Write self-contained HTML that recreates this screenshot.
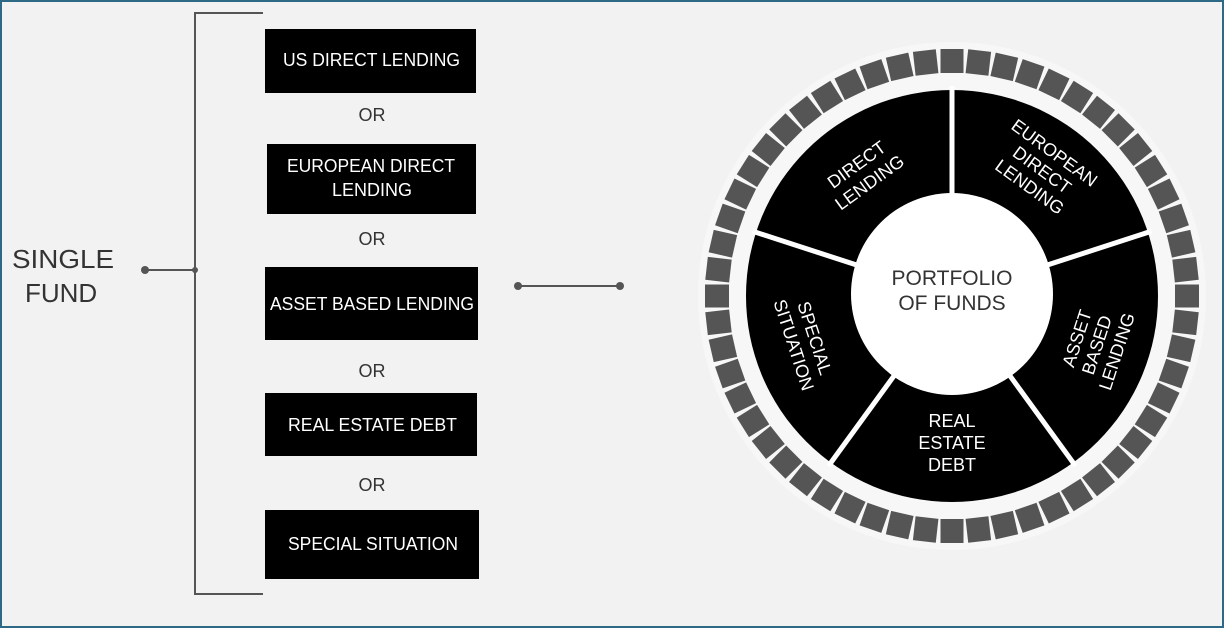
<!DOCTYPE html>
<html><head><meta charset="utf-8"><style>
html,body{margin:0;padding:0;background:#f2f2f2;}
svg{display:block}
text{font-family:"Liberation Sans",sans-serif;}
</style></head><body>
<svg id="s" width="1224" height="628" viewBox="0 0 1224 628" xmlns="http://www.w3.org/2000/svg">
<rect x="1" y="1" width="1222" height="626" fill="#f2f2f2" stroke="#2e6a86" stroke-width="2"/>
<!-- left -->
<text x="12" y="268" font-size="26" fill="#333" textLength="102" lengthAdjust="spacingAndGlyphs">SINGLE</text>
<text x="25" y="302" font-size="26" fill="#333">FUND</text>
<g stroke="#555" stroke-width="2" fill="none">
<polyline points="263,13 195,13 195,594 263,594"/>
<line x1="145" y1="270" x2="195" y2="270"/>
<line x1="518" y1="286" x2="620" y2="286"/>
</g>
<g fill="#555"><circle cx="145" cy="270" r="4"/><circle cx="195" cy="270" r="3"/><circle cx="518" cy="286" r="4"/><circle cx="620" cy="286" r="4"/></g>
<g fill="#000">
<rect x="265" y="29" width="211" height="64"/>
<rect x="267" y="144" width="209" height="70"/>
<rect x="265" y="267" width="213" height="73"/>
<rect x="265" y="393" width="212" height="63"/>
<rect x="265" y="510" width="214" height="69"/>
</g>
<g fill="#fff" font-size="18">
<text x="283" y="66" textLength="177" lengthAdjust="spacingAndGlyphs">US DIRECT LENDING</text>
<text x="287" y="172" textLength="168" lengthAdjust="spacingAndGlyphs">EUROPEAN DIRECT</text>
<text x="332" y="196" textLength="80" lengthAdjust="spacingAndGlyphs">LENDING</text>
<text x="270" y="310" textLength="204" lengthAdjust="spacingAndGlyphs">ASSET BASED LENDING</text>
<text x="288" y="431" textLength="169" lengthAdjust="spacingAndGlyphs">REAL ESTATE DEBT</text>
<text x="288" y="550" textLength="170" lengthAdjust="spacingAndGlyphs">SPECIAL SITUATION</text>
</g>
<g fill="#333" font-size="18" text-anchor="middle">
<text x="372" y="121">OR</text><text x="372" y="245">OR</text><text x="372" y="377">OR</text><text x="372" y="491">OR</text>
</g>
<!-- wheel -->
<circle cx="952" cy="296" r="254" fill="#f7f7f7"/>
<g id="sq"></g>
<circle cx="952" cy="296" r="206" fill="#000"/>
<g stroke="#fff" stroke-width="5" id="sep"></g>
<circle cx="952" cy="294" r="101" fill="#fff"/>
<g fill="#333" font-size="21" text-anchor="middle">
<text x="952" y="285">PORTFOLIO</text><text x="952" y="310">OF FUNDS</text>
</g>
<g fill="#fff" font-size="18" text-anchor="middle">
<g transform="translate(862,172) rotate(-36)"><text y="-3">DIRECT</text><text y="19">LENDING</text></g>
<g transform="translate(1042,170) rotate(36)"><text y="-15">EUROPEAN</text><text y="6">DIRECT</text><text y="27">LENDING</text></g>
<g transform="translate(1097,345) rotate(-72)"><text y="-15">ASSET</text><text y="6">BASED</text><text y="27">LENDING</text></g>
<g transform="translate(952,441)"><text y="-14">REAL</text><text y="8">ESTATE</text><text y="30">DEBT</text></g>
<g transform="translate(806,341) rotate(72)"><text y="-3">SPECIAL</text><text y="19">SITUATION</text></g>
</g>
</svg>
<script>
var ns="http://www.w3.org/2000/svg",cx=952,cy=296;
var g=document.getElementById('sq'),N=56;
for(var i=0;i<N;i++){var a=i*360/N;var r=document.createElementNS(ns,'rect');
r.setAttribute('x',-11.5);r.setAttribute('y',-247);r.setAttribute('width',23);r.setAttribute('height',24);
r.setAttribute('fill','#555');r.setAttribute('transform','translate('+cx+','+cy+') rotate('+a+')');g.appendChild(r);}
var s=document.getElementById('sep');
[-90,-18,54,126,198].forEach(function(d){var t=d*Math.PI/180;var l=document.createElementNS(ns,'line');
l.setAttribute('x1',cx+95*Math.cos(t));l.setAttribute('y1',cy+95*Math.sin(t));
l.setAttribute('x2',cx+210*Math.cos(t));l.setAttribute('y2',cy+210*Math.sin(t));s.appendChild(l);});
</script>
</body></html>
